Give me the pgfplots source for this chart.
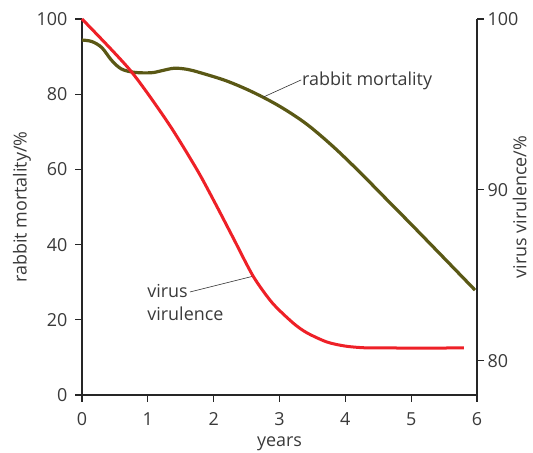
\documentclass[border=0pt]{standalone}
\usepackage{pgfplots}
\pgfplotsset{compat=1.18}
\usepackage{fontspec}
\setmainfont{Open Sans}
\definecolor{txt}{HTML}{3A3A3A}
\definecolor{vred}{HTML}{EE2027}
\definecolor{olive}{HTML}{5A5815}
\pgfplotsset{
  common/.style={
    at={(82bp,58bp)}, anchor=south west, scale only axis,
    width=395bp, height=376bp, xmin=0, xmax=6,
    tick align=outside, major tick length=7bp,
    axis line style={line width=1.2bp, color=black!85, -},
    tick style={line width=1.2bp, color=black!85},
    ticklabel style={font=\fontsize{18}{21}\selectfont, text=txt},
    label style={font=\fontsize{18}{21}\selectfont, text=txt},
    /pgf/number format/assume math mode=true,
    clip=false,
  }
}
\begin{document}
\begin{tikzpicture}[x=1bp,y=1bp]
\useasboundingbox (0,0) rectangle (533,453);
\begin{axis}[common,
  ymin=0, ymax=100,
  axis x line*=bottom, axis y line*=left,
  xtick={0,1,...,6}, ytick={0,20,...,100},
  xticklabel style={yshift=-7bp},
  yticklabel style={xshift=-4bp},
  xlabel={years}, ylabel={rabbit mortality/\%},
  xlabel style={at={(axis description cs:0.5,0)}, anchor=center, yshift=-49bp},
  ylabel style={at={(axis description cs:-0.152,0.5)}, anchor=center},
]
\addplot[olive, line width=3.2bp, smooth, tension=0.55] coordinates {
 (0,94.4) (0.15,94.0) (0.3,92.4) (0.45,89.0) (0.6,86.7) (0.8,85.8)
 (1.05,85.7) (1.2,86.2) (1.4,86.9) (1.6,86.6) (1.8,85.7) (2.2,83.5)
 (2.6,80.5) (3.0,76.8) (3.4,72.2) (3.8,66.3) (4.2,59.6) (4.6,52.5)
 (5.0,45.4) (5.5,36.4) (5.97,27.9)
};
\draw[line width=0.6bp, black!80] (axis cs:2.75,79.2) -- (axis cs:3.33,83.8);
\node[anchor=west, inner sep=0pt, text=txt, font=\fontsize{18}{21}\selectfont] at (axis cs:3.34,83.5) {rabbit mortality};
\draw[line width=0.6bp, black!80] (axis cs:1.64,27.4) -- (axis cs:2.60,31.6);
\node[anchor=west, inner sep=0pt, align=left, text=txt, font=\fontsize{18}{23}\selectfont] at (axis cs:0.99,24.5) {virus\\virulence};
\end{axis}
\begin{axis}[common,
  ymin=78, ymax=100,
  axis x line=none, axis y line*=right,
  ytick={80,90,100},
  ylabel={virus virulence/\%},
  ylabel style={at={(axis description cs:1.108,0.5)}, anchor=center},
]
\addplot[vred, line width=3.0bp, smooth, tension=0.45] coordinates {
 (0,100) (0.73,97.01) (1.31,93.91) (1.75,91.16) (2.02,89.24)
 (2.29,87.24) (2.60,84.95) (2.89,83.39) (3.21,82.20) (3.42,81.63)
 (3.72,81.10) (4.0,80.86) (4.3,80.76) (4.7,80.75) (5.80,80.75)
};
\end{axis}
\end{tikzpicture}
\end{document}
